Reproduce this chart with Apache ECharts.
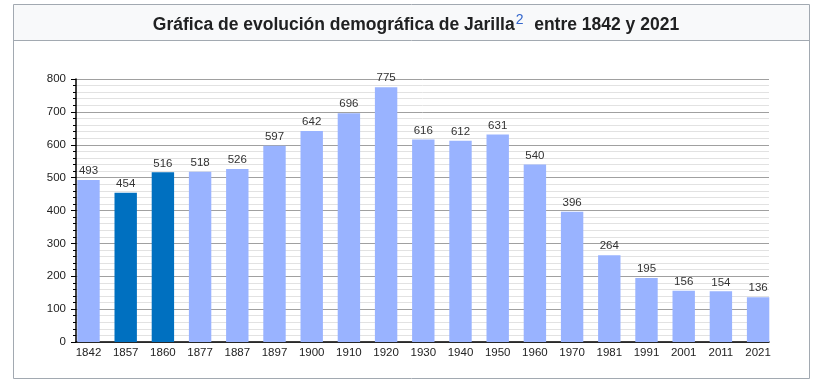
<!DOCTYPE html>
<html>
<head>
<meta charset="utf-8">
<script src="https://cdn.jsdelivr.net/npm/echarts@6/dist/echarts.min.js"></script>
<style>
html,body{margin:0;padding:0;background:#fff;}
#chart{width:831px;height:381px;}
</style>
</head>
<body>
<div id="chart"></div>
<script>
const categories = ['1842','1857','1860','1877','1887','1897','1900','1910','1920','1930','1940','1950','1960','1970','1981','1991','2001','2011','2021'];
const population = [493,454,516,518,526,597,642,696,775,616,612,631,540,396,264,195,156,154,136];
const highlighted = ['1857','1860'];
const yTicks = {min:0, max:800, interval:100};

const lightColor = '#99b3ff';
const darkColor = '#0070c0';

const chart = echarts.init(document.getElementById('chart'), null, {renderer:'canvas'});

const barData = population.map((v, i) => ({
  value: v,
  itemStyle: {color: highlighted.includes(categories[i]) ? darkColor : lightColor}
}));

const option = {
  backgroundColor: '#ffffff',
  animation: false,
  graphic: [
    {type:'rect', z:-10, shape:{x:13.5,y:4.5,width:796,height:374}, style:{fill:'#ffffff', stroke:'#a2a9b1', lineWidth:1}},
    {type:'rect', z:-9, shape:{x:14,y:5,width:795,height:35}, style:{fill:'#f8f9fa'}},
    {type:'line', z:-8, shape:{x1:14,y1:40.5,x2:809,y2:40.5}, style:{stroke:'#a2a9b1', lineWidth:1}}
  ],
  title: {
    left: 411,
    textAlign: 'center',
    top: 9,
    text: '{b|Gráfica de evolución demográfica de Jarilla}{s|2}{b|  entre 1842 y 2021}',
    textStyle: {
      fontWeight: 'normal',
      rich: {
        b: {fontFamily:'Liberation Sans, Arial, sans-serif', fontSize:17.5, fontWeight:'bold', color:'#202122', lineHeight:22},
        s: {fontFamily:'Liberation Sans, Arial, sans-serif', fontSize:14, fontWeight:'normal', color:'#3366cc', lineHeight:22, padding:[0,1,9,1]}
      }
    }
  },
  grid: [
    {left:76, right:62, top:79, bottom:39, containLabel:false},
    {left:69.9, right:54.3, top:79, bottom:39, containLabel:false}
  ],
  xAxis: [
    {
      type:'value', gridIndex:0, min:0, max:1,
      axisLine:{show:true, onZero:false, lineStyle:{color:'#000', width:1.5}},
      axisTick:{show:false}, axisLabel:{show:false}, splitLine:{show:false}
    },
    {
      type:'category', gridIndex:1, data:categories, boundaryGap:true,
      axisLine:{show:false}, axisTick:{show:false}, splitLine:{show:false},
      axisLabel:{margin:5, color:'#222', fontSize:11.5, fontFamily:'Liberation Sans, Arial, sans-serif', interval:0}
    }
  ],
  yAxis: [
    {
      type:'value', gridIndex:0, min:yTicks.min, max:yTicks.max, interval:yTicks.interval,
      axisLine:{show:true, lineStyle:{color:'#000', width:1.5}},
      axisTick:{show:true, length:5, lineStyle:{color:'#000'}},
      minorTick:{show:true, splitNumber:5, length:3, lineStyle:{color:'#000'}},
      axisLabel:{margin:10, color:'#222', fontSize:11.5, fontFamily:'Liberation Sans, Arial, sans-serif'},
      splitLine:{show:true, lineStyle:{color:'#a0a0a0', width:1}},
      minorSplitLine:{show:true, lineStyle:{color:'#e2e2e2', width:1}}
    },
    {
      type:'value', gridIndex:1, min:yTicks.min, max:yTicks.max, interval:yTicks.interval,
      show:false, splitLine:{show:false}
    }
  ],
  series: [
    {
      type:'bar', xAxisIndex:1, yAxisIndex:1, data:barData, barWidth:22.4,
      label:{show:true, position:'top', distance:3, color:'#333', fontSize:11.5, fontFamily:'Liberation Sans, Arial, sans-serif'}
    }
  ]
};
chart.setOption(option);
</script>
</body>
</html>
